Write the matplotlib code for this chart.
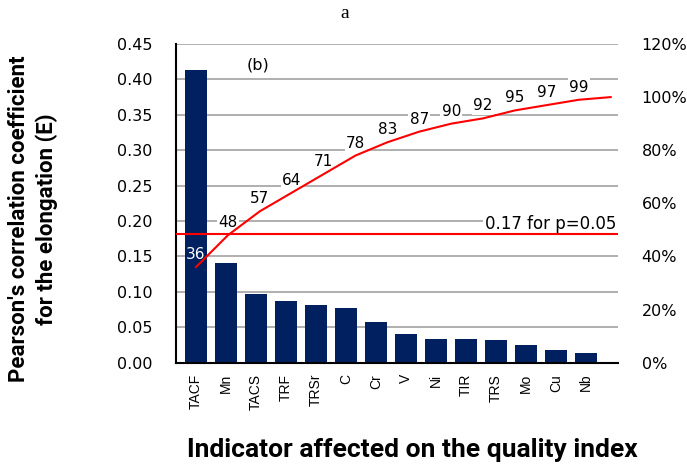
import matplotlib
matplotlib.use("Agg")
import matplotlib.pyplot as plt
import matplotlib.transforms as mtransforms

categories = ["TACF", "Mn", "TACS", "TRF", "TRSr", "C", "Cr", "V", "Ni", "TIR", "TRS", "Mo", "Cu", "Nb"]
pearson_r = [0.413, 0.141, 0.097, 0.087, 0.081, 0.077, 0.058, 0.041, 0.034, 0.034, 0.032, 0.025, 0.018, 0.013]
cum_pct = [36, 48, 57, 64, 71, 78, 83, 87, 90, 92, 95, 97, 99, 100]
cum_labels = ["36", "48", "57", "64", "71", "78", "83", "87", "90", "92", "95", "97", "99"]
r_crit = 0.182
left_ticks = [0.00, 0.05, 0.10, 0.15, 0.20, 0.25, 0.30, 0.35, 0.40, 0.45]
right_ticks = [0, 20, 40, 60, 80, 100, 120]

navy = "#002060"
red = "#ff0000"

fig = plt.figure(figsize=(6.87, 4.68), dpi=100)
ax = fig.add_axes([0.2562, 0.225, 0.6434, 0.681])

x = list(range(len(categories)))
ax.bar(x, pearson_r, width=0.73, color=navy, zorder=2)
ax.set_xlim(-0.66, 14.07)
ax.set_ylim(0, 0.45)
ax.set_yticks(left_ticks)
ax.set_yticklabels([f"{v:.2f}" for v in left_ticks], fontsize=11.5)
ax.set_xticks(x)
ax.set_xticklabels(categories, rotation=90, fontsize=10, family="Liberation Sans", va="top")
ax.tick_params(axis="y", length=0, pad=17)
ax.tick_params(axis="x", length=0, pad=8)
ax.yaxis.grid(True, color="#9a9a9a", linewidth=1.1)
ax.set_axisbelow(True)
for s in ["top", "right"]:
    ax.spines[s].set_visible(False)
ax.spines["left"].set_linewidth(1.5)
ax.spines["bottom"].set_linewidth(1.5)

# critical value line
ax.axhline(r_crit, color=red, linewidth=1.5, zorder=4)
trans = mtransforms.blended_transform_factory(ax.transAxes, ax.transData)
ax.text(0.997, r_crit + 0.014, "0.17 for p=0.05", transform=trans, ha="right", va="center",
        fontsize=12, zorder=3, bbox=dict(facecolor="white", edgecolor="none", pad=1.5))
ax.text(2.06, 0.42, "(b)", fontsize=11.5, ha="center", va="center")

# cumulative percentage axis
ax2 = ax.twinx()
ax2.set_ylim(0, 120)
ax2.set_yticks(right_ticks)
ax2.set_yticklabels([f"{v}%" for v in right_ticks], fontsize=11.5)
ax2.tick_params(axis="y", length=0, pad=17)
for s in ax2.spines.values():
    s.set_visible(False)

ax3 = ax2.twiny()
ax3.set_xlim(-0.627, 13.23)
ax3.set_xticks([])
for s in ax3.spines.values():
    s.set_visible(False)
ax3.plot(range(len(cum_pct)), cum_pct, color=red, linewidth=1.5, zorder=3)
for i, lab in enumerate(cum_labels):
    col = "white" if i == 0 else "black"
    bb = None if i == 0 else dict(facecolor="white", edgecolor="none", pad=1)
    ax3.annotate(lab, (i, cum_pct[i]), xytext=(0, 9), textcoords="offset points",
                 ha="center", va="center", fontsize=11, color=col, zorder=2, bbox=bb)

fig.text(345 / 687, 1 - 14 / 468, "a", family="Liberation Serif", fontsize=14, ha="center", va="center")
fig.text(33 / 687, 1 - 219 / 468, "Pearson's correlation coefficient\nfor the elongation (E)",
         rotation=90, ha="center", va="center", multialignment="center", linespacing=1.35,
         fontsize=16, fontweight="bold", family="Roboto")
fig.text(412 / 687, 1 - 450 / 468, "Indicator affected on the quality index",
         ha="center", va="center", fontsize=19, fontweight="bold", family="Roboto")

fig.savefig("out.png", dpi=100)
